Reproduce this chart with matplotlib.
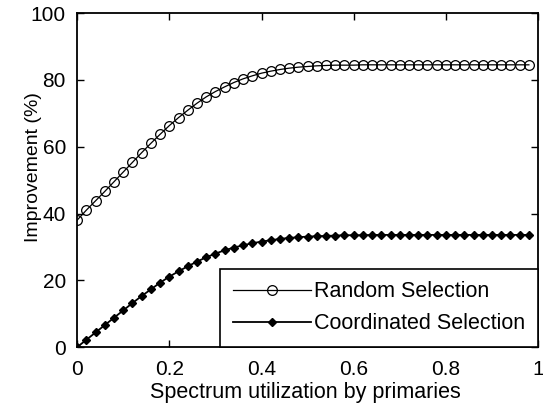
import numpy as np
import matplotlib
matplotlib.use("Agg")
import matplotlib.pyplot as plt

plt.rcParams['font.family'] = ['Liberation Sans', 'DejaVu Sans']

# Spectrum utilization by primaries (0 .. 0.98 in steps of 0.02)
x = np.arange(50) * 0.02

# Improvement (%)
random_sel = [38.0, 41.0, 43.8, 46.6, 49.5, 52.4, 55.3, 58.2, 61.0, 63.7,
              66.3, 68.7, 70.9, 73.0, 74.9, 76.5, 77.9, 79.2, 80.3, 81.2,
              82.0, 82.6, 83.1, 83.5, 83.8, 84.0, 84.2, 84.3, 84.4, 84.4,
              84.4, 84.5, 84.5, 84.5, 84.5, 84.5, 84.5, 84.5, 84.5, 84.5,
              84.5, 84.5, 84.5, 84.5, 84.5, 84.5, 84.5, 84.5, 84.5, 84.5]
coord_sel = [0.0, 2.2, 4.4, 6.6, 8.8, 11.0, 13.2, 15.3, 17.3, 19.3,
             21.1, 22.7, 24.2, 25.6, 26.9, 28.0, 29.0, 29.8, 30.5, 31.1,
             31.6, 32.0, 32.4, 32.7, 32.9, 33.1, 33.2, 33.3, 33.4, 33.5,
             33.5, 33.5, 33.6, 33.6, 33.6, 33.6, 33.6, 33.6, 33.6, 33.6,
             33.6, 33.6, 33.6, 33.6, 33.6, 33.6, 33.6, 33.6, 33.6, 33.6]

fig = plt.figure(figsize=(5.43, 4.07), dpi=100)
ax = fig.add_axes([0.142, 0.147, 0.849, 0.821])

ax.plot(x, random_sel, color="black", linewidth=0.9, marker="o",
        markersize=7, markerfacecolor="none", markeredgewidth=0.9,
        label="Random Selection")
ax.plot(x, coord_sel, color="black", linewidth=1.3, marker="D",
        markersize=4.2, label="Coordinated Selection")

ax.set_xlim(0, 1)
ax.set_ylim(0, 100)
ax.set_xticks([0, 0.2, 0.4, 0.6, 0.8, 1])
ax.set_xticklabels(["0", "0.2", "0.4", "0.6", "0.8", "1"])
ax.set_yticks([0, 20, 40, 60, 80, 100])
ax.tick_params(direction="in", length=5, width=1, top=True, right=True,
               labelsize=15)
ax.tick_params(axis="x", pad=9)
ax.tick_params(axis="y", pad=8)
for s in ax.spines.values():
    s.set_linewidth(1.3)

ax.set_xlabel("Spectrum utilization by primaries", fontsize=15.5)
ax.set_ylabel("Improvement (%)", fontsize=14)
ax.xaxis.set_label_coords(0.495, -0.105)
ax.yaxis.set_label_coords(-0.076, 0.54)

leg = ax.legend(loc="lower right", borderaxespad=0, fontsize=15.5,
                handlelength=3.6, fancybox=False, framealpha=1,
                edgecolor="black", labelspacing=0.5, borderpad=0.6,
                handletextpad=0.15)
leg.get_frame().set_linewidth(1.2)

fig.savefig("out.png", dpi=100)
